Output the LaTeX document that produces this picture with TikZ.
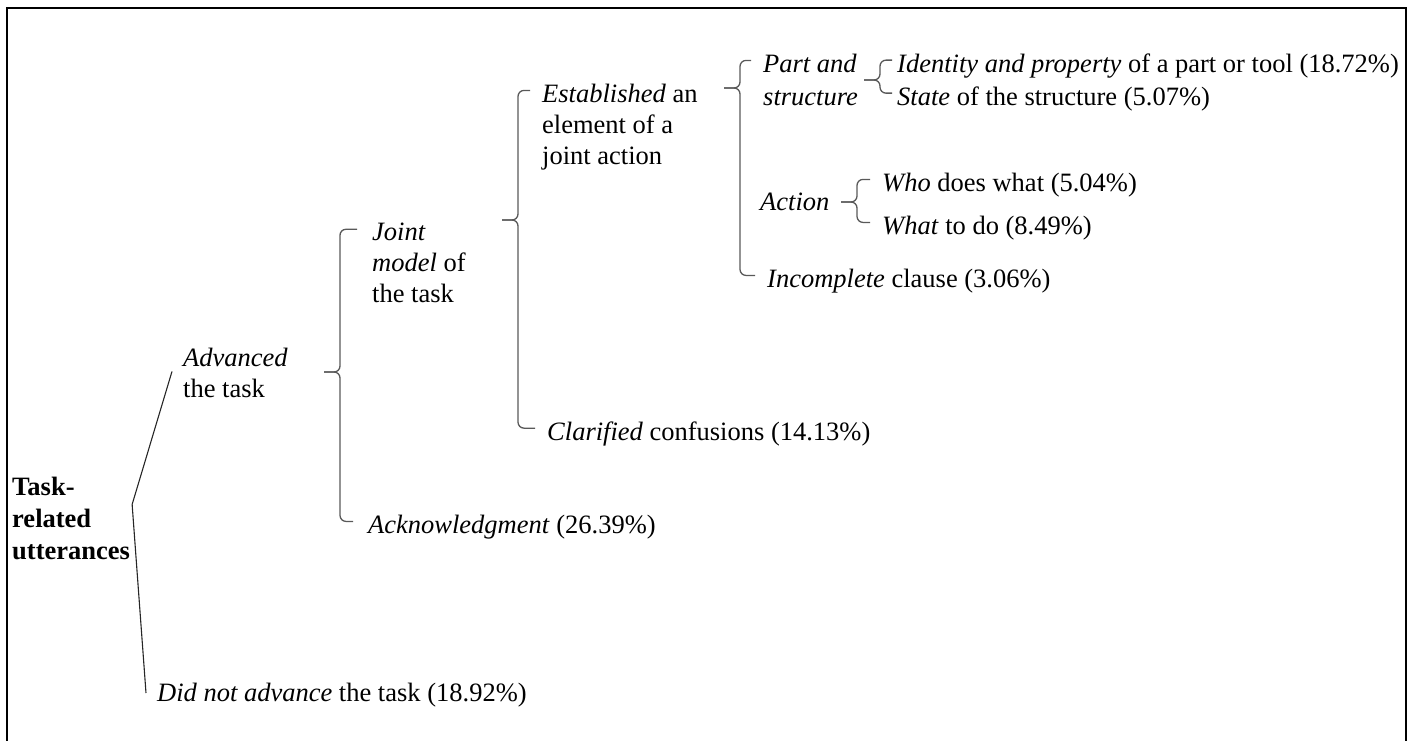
\documentclass[tikz,border=0pt]{standalone}
\usepackage{fontspec}
\setmainfont{Liberation Serif}

\tikzset{
  txt/.style={anchor=base west, inner sep=0pt, align=left},
  bracket/.style={draw=black!65, line width=1.3pt, rounded corners=6pt},
  rootline/.style={draw=black!85, line width=1.1pt},
}

% bracket from a tip coordinate to the first line of two children
\newcommand{\treebrace}[4]{%
  \draw[bracket] (#1) -- ++(16,0) |- ([shift={(-#4,7)}]#2.north west);
  \draw[bracket] (#1) -- ++(16,0) |- ([shift={(-#4,7)}]#3.north west);
}

\begin{document}
\begin{tikzpicture}[x=1pt, y=-1pt, font=\fontsize{26.5}{31}\selectfont]
    \useasboundingbox (0,0) rectangle (1418,740);
    \draw[line width=2.4pt] (7,745) -- (7,8) -- (1406,8) -- (1406,745);

    % multi-line nodes sit on the baseline of their last line
    \node[txt] (root) at (12,559) {\textbf{Task-}\\[1pt]\textbf{related}\\[1pt]\textbf{utterances}};
    \node[txt] (adv) at (183,397) {\textit{Advanced}\\the task};
    \node[txt] (notadv) at (157,701) {\textit{Did not advance} the task (18.92\%)};
    \node[txt] (joint) at (372,302) {\textit{Joint}\\\textit{model} of\\the task};
    \node[txt] (ack) at (368,533) {\textit{Acknowledgment} (26.39\%)};
    \node[txt] (estab) at (542,164) {\textit{Established} an\\element of a\\joint action};
    \node[txt] (clar) at (547,440) {\textit{Clarified} confusions (14.13\%)};
    \node[txt] (part) at (763,105) {\textit{Part and}\\[2pt]\textit{structure}};
    \node[txt] (action) at (760,210) {\textit{Action}};
    \node[txt] (incompl) at (767,287) {\textit{Incomplete} clause (3.06\%)};
    \node[txt] (ident) at (897,72) {\textit{Identity and property} of a part or tool (18.72\%)};
    \node[txt] (state) at (897,105) {\textit{State} of the structure (5.07\%)};
    \node[txt] (who) at (882,191) {\textit{Who} does what (5.04\%)};
    \node[txt] (what) at (882,234) {\textit{What} to do (8.49\%)};

    \coordinate (advtip) at (324,372);
    \coordinate (jointtip) at (502,220);
    \coordinate (estabtip) at (724,88);
    \coordinate (parttip) at (864,80);
    \coordinate (actiontip) at (841,202);
    \coordinate (fork) at ([shift={(2,28)}]root.north east);

    \draw[rootline] ([shift={(-11,24)}]adv.north west) -- (fork) -- ([shift={(-11,-8)}]notadv.base west);
    \treebrace{advtip}{joint}{ack}{15}
    \treebrace{jointtip}{estab}{clar}{12}
    \treebrace{estabtip}{part}{incompl}{12}
    \treebrace{parttip}{ident}{state}{5}
    \treebrace{actiontip}{who}{what}{12}
\end{tikzpicture}
\end{document}
